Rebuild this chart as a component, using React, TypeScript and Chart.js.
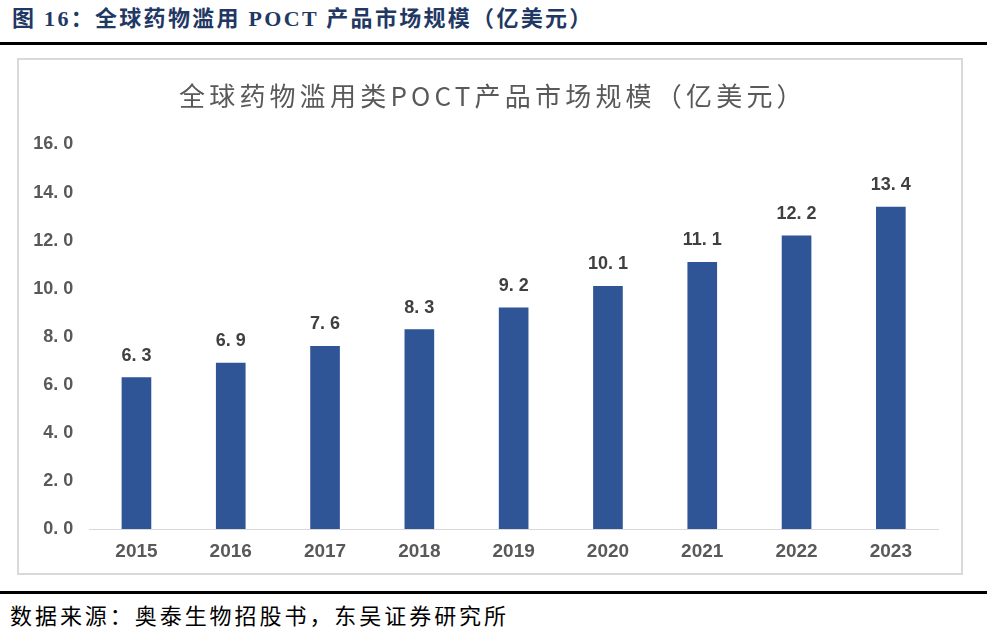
import React, { useEffect, useRef } from "react";
import { Chart, registerables } from "chart.js";

Chart.register(...registerables);

const years = ["2015", "2016", "2017", "2018", "2019", "2020", "2021", "2022", "2023"];
const marketSize = [6.3, 6.9, 7.6, 8.3, 9.2, 10.1, 11.1, 12.2, 13.4];
const yMin = 0;
const yMax = 16;
const yStep = 2;

const headerText = "图 16：全球药物滥用 POCT 产品市场规模（亿美元）";
const chartTitle = "全球药物滥用类POCT产品市场规模（亿美元）";
const sourceText = "数据来源：奥泰生物招股书，东吴证券研究所";

const fmt = (v: number) => v.toFixed(1).replace(".", ". ");

const labelPlugin = {
  id: "barValueLabels",
  afterDatasetsDraw(chart: any) {
    const ctx = chart.ctx;
    const meta = chart.getDatasetMeta(0);
    ctx.save();
    ctx.font = "bold 18px 'Liberation Sans', Arial, sans-serif";
    ctx.fillStyle = "#404040";
    ctx.textAlign = "center";
    ctx.textBaseline = "middle";
    meta.data.forEach((bar: any, i: number) => {
      const v = chart.data.datasets[0].data[i] as number;
      ctx.fillText(fmt(v), bar.x, bar.y - 22);
    });
    ctx.restore();
  },
};

function BarChart() {
  const ref = useRef<HTMLCanvasElement | null>(null);
  useEffect(() => {
    if (!ref.current) return;
    const chart = new Chart(ref.current, {
      type: "bar",
      data: {
        labels: years,
        datasets: [
          {
            data: marketSize,
            backgroundColor: "#2F5597",
            borderWidth: 0,
            barThickness: 29,
          },
        ],
      },
      options: {
        animation: false,
        responsive: true,
        maintainAspectRatio: false,
        layout: { padding: { left: 0, right: 23, top: 84.5, bottom: 0 } },
        plugins: {
          legend: { display: false },
          title: { display: false },
          tooltip: { enabled: false },
        },
        scales: {
          x: {
            grid: { display: false, drawTicks: false },
            border: { display: true, color: "#d9d9d9", width: 1 },
            afterFit(scale: any) {
              scale.height = 44;
            },
            ticks: {
              color: "#595959",
              padding: 11,
              font: { family: "'Liberation Sans', Arial, sans-serif", size: 19, weight: "bold" },
            },
          },
          y: {
            min: yMin,
            max: yMax,
            grid: { display: false, drawTicks: false },
            border: { display: false },
            afterFit(scale: any) {
              scale.width = 70.3;
            },
            ticks: {
              stepSize: yStep,
              color: "#595959",
              padding: 16,
              callback: (v: any) => fmt(Number(v)),
              font: { family: "'Liberation Sans', Arial, sans-serif", size: 18, weight: "bold" },
            },
          },
        },
      },
      plugins: [labelPlugin],
    });
    return () => chart.destroy();
  }, []);
  return <canvas ref={ref} />;
}

export default function App() {
  return (
    <div style={{ position: "absolute", left: 0, top: 0, width: 995, height: 634, background: "#fff", overflow: "hidden" }}>
      <div
        style={{
          position: "absolute",
          left: 12,
          top: 8,
          lineHeight: "22px",
          fontSize: 22,
          fontWeight: "bold",
          letterSpacing: "2.3px",
          color: "#1f3864",
          whiteSpace: "nowrap",
          fontFamily: "'Liberation Serif', 'Noto Sans CJK SC', serif",
        }}
      >
        {headerText}
      </div>
      <div style={{ position: "absolute", left: 0, top: 42, width: 987, height: 2.5, background: "#000" }} />
      <div
        style={{
          position: "absolute",
          left: 17,
          top: 58,
          width: 946,
          height: 517,
          border: "2px solid #d9d9d9",
          boxSizing: "border-box",
        }}
      />
      <div style={{ position: "absolute", left: 19, top: 60, width: 942, height: 513 }}>
        <BarChart />
      </div>
      <div
        style={{
          position: "absolute",
          left: 179,
          top: 82,
          lineHeight: "26px",
          fontSize: 26,
          letterSpacing: "4.2px",
          color: "#595959",
          whiteSpace: "nowrap",
          fontFamily: "'Noto Sans CJK SC', sans-serif",
        }}
      >
        {chartTitle}
      </div>
      <div style={{ position: "absolute", left: 0, top: 591, width: 987, height: 2.5, background: "#000" }} />
      <div
        style={{
          position: "absolute",
          left: 10,
          top: 602.5,
          lineHeight: "22px",
          fontSize: 22,
          letterSpacing: "2.95px",
          color: "#000",
          whiteSpace: "nowrap",
          fontFamily: "'Noto Sans CJK SC', sans-serif",
        }}
      >
        {sourceText}
      </div>
    </div>
  );
}
